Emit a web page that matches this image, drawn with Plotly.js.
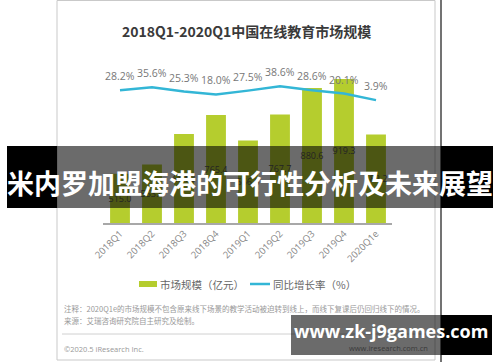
<!DOCTYPE html>
<html><head><meta charset="utf-8">
<script src="https://cdn.plot.ly/plotly-3.0.1.min.js"></script>
<style>html,body{margin:0;padding:0;background:#fff;}#chart{width:500px;height:362px;}</style>
</head><body><div id="chart"></div>
<script>
const categories = ['2018Q1','2018Q2','2018Q3','2018Q4','2019Q1','2019Q2','2019Q3','2019Q4','2020Q1e'];
const marketSize = [515.0, 553.9, 684.8, 765.4, 656.6, 767.7, 880.6, 919.3, 682.2];
const growthRate = [28.2, 35.6, 25.3, 18.0, 27.5, 38.6, 28.6, 20.1, 3.9];
const chartTitle = '2018Q1-2020Q1中国在线教育市场规模';
const legendBar = '市场规模（亿元）';
const legendLine = '同比增长率（%）';
const noteText = '注释：2020Q1e的市场规模不包含原来线下场景的教学活动被迫转到线上，而线下复课后仍回归线下的情况。';
const sourceText = '来源：艾瑞咨询研究院自主研究及绘制。';
const copyText = '©2020.5 iResearch Inc.';
const siteText = 'www.iresearch.com.cn';
const bannerText = '米内罗加盟海港的可行性分析及未来展望';
const watermarkText = 'www.zk-j9games.com';

const Y_MIN = 305, Y_MAX = 1000;
const Y2_MIN = -301, Y2_MAX = 103.5;

const L = 103, R = 392, T = 60, B = 223;
const px = p => (p - L) / (R - L);
const py = p => (B - p) / (B - T);

const CJK = '"Noto Sans CJK SC", "Open Sans", sans-serif';
const GREEN = '#b5cd2e', CYAN = '#33b6d6';

const bar = {
  type: 'bar', x: categories, y: marketSize.map(v => v - Y_MIN), base: Y_MIN,
  customdata: marketSize, texttemplate: '%{customdata:.1f}',
  textposition: 'inside', insidetextanchor: 'middle', constraintext: 'none', textangle: 0,
  textfont: {size: 9, color: '#555', family: '"Open Sans", sans-serif'},
  marker: {color: GREEN}, hoverinfo: 'skip', showlegend: false
};
const line = {
  type: 'scatter', mode: 'lines', x: categories, y: growthRate, yaxis: 'y2',
  line: {color: CYAN, width: 2.5}, hoverinfo: 'skip', showlegend: false
};

function rect(x0, y0, x1, y1, fill, layer, lineColor) {
  return {type: 'rect', xref: 'paper', yref: 'paper', x0: px(x0), x1: px(x1), y0: py(y0), y1: py(y1),
    fillcolor: fill, line: lineColor ? {color: lineColor, width: 1} : {width: 0}, layer: layer || 'above'};
}
function seg(x0, y0, x1, y1, color, width, layer) {
  return {type: 'line', xref: 'paper', yref: 'paper', x0: px(x0), x1: px(x1), y0: py(y0), y1: py(y1),
    line: {color: color, width: width}, layer: layer || 'below'};
}
function txt(x, y, text, size, color, xanchor, opts) {
  return Object.assign({xref: 'paper', yref: 'paper', x: px(x), y: py(y), text: text, showarrow: false,
    xanchor: xanchor || 'center', yanchor: 'middle', font: {size: size, color: color, family: CJK}}, opts || {});
}

const shapes = [
  rect(57, 0.5, 435, 360, 'rgba(0,0,0,0)', 'below', '#c9c9c9'),
  seg(441, 0, 441, 362, '#444', 1.5),
  seg(62, 334, 430, 334, '#d0d0d0', 1),
  rect(139, 281, 157, 287, GREEN, 'below'),
  seg(250, 284, 270, 284, CYAN, 2.5),
  rect(7, 146, 57, 208, '#000', 'above'),
  rect(57, 146, 441, 208, 'rgba(0,0,0,0.58)', 'above'),
  rect(441, 146, 493, 208, '#000', 'above'),
  rect(291, 315, 441, 355, 'rgba(0,0,0,0.58)', 'above'),
  rect(441, 315, 492, 355, '#000', 'above')
];

const annotations = [
  txt(246, 31, '<b>' + chartTitle + '</b>', 14, '#3a3a3a'),
  txt(158, 284, legendBar, 10.5, '#666', 'left'),
  txt(271, 284, legendLine, 10.5, '#666', 'left'),
  txt(62, 308, noteText, 7.5, '#999', 'left'),
  txt(62, 320, sourceText, 7.5, '#999', 'left'),
  txt(62, 349, copyText, 7.5, '#999', 'left', {font: {size: 7.5, color: '#999', family: '"Open Sans", sans-serif'}}),
  txt(430, 348, siteText, 7.5, '#3a3a3a', 'right', {font: {size: 7.5, color: '#3a3a3a', family: '"Open Sans", sans-serif'}}),
  txt(250, 182, '<b>' + bannerText + '</b>', 27, '#fff'),
  txt(391, 331, '<b>' + watermarkText + '</b>', 18, '#fff', 'center', {font: {size: 18, color: '#fff', family: '"Open Sans", sans-serif'}})
];
growthRate.forEach((v, i) => {
  annotations.push({x: categories[i], y: v, xref: 'x', yref: 'y2', yshift: 14, showarrow: false,
    text: v.toFixed(1) + '%', font: {size: 10.5, color: '#777', family: '"Open Sans", sans-serif'}});
});

const layout = {
  width: 500, height: 362,
  margin: {l: L, r: 500 - R, t: T, b: 362 - B, pad: 0},
  paper_bgcolor: '#fff', plot_bgcolor: 'rgba(0,0,0,0)',
  bargap: 0.38, showlegend: false,
  xaxis: {type: 'category', showline: true, linecolor: '#a8a8a8', linewidth: 1.5, ticks: '',
    tickangle: -45, tickfont: {size: 9.5, color: '#888', family: '"Open Sans", sans-serif'},
    showgrid: false, zeroline: false, fixedrange: true},
  yaxis: {range: [Y_MIN, Y_MAX], visible: false, showgrid: false, zeroline: false, fixedrange: true},
  yaxis2: {range: [Y2_MIN, Y2_MAX], overlaying: 'y', visible: false, showgrid: false, zeroline: false, fixedrange: true},
  shapes: shapes, annotations: annotations
};
Plotly.newPlot('chart', [bar, line], layout, {staticPlot: true, displayModeBar: false});
</script></body></html>
